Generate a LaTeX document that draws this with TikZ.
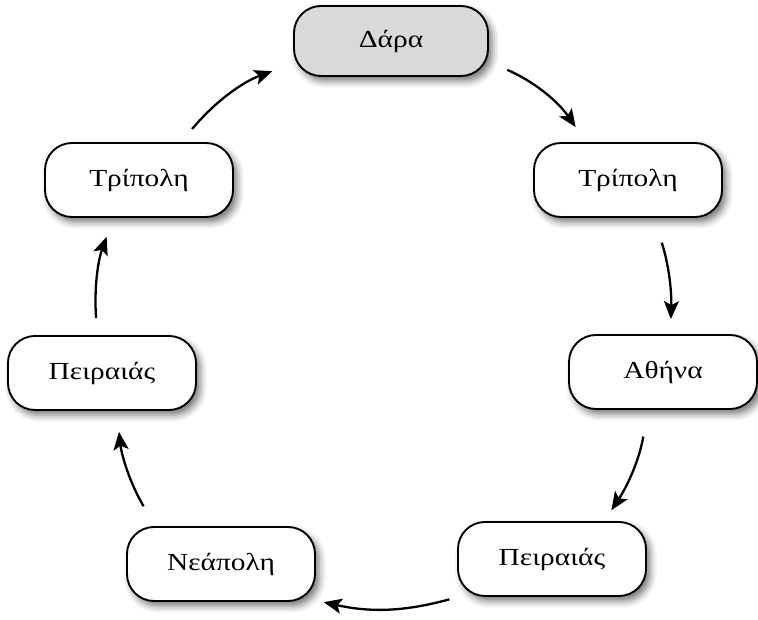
\documentclass[tikz,border=0pt]{standalone}
\usepackage{fontspec}
\setmainfont[FakeStretch=1.2]{Liberation Serif}
\usetikzlibrary{arrows.meta,shadows.blur}
\tikzset{
  city/.style={draw=black, line width=1.9pt, fill=white, rounded corners=27pt,
    minimum width=188pt, minimum height=74pt, inner sep=0pt,
    font=\fontsize{24.5}{29}\selectfont,
    blur shadow={shadow xshift=4pt, shadow yshift=-5pt, shadow blur radius=7pt, shadow opacity=55}},
  start/.style={fill=black!15},
  arr/.style={line width=2.3pt, -{Stealth[length=18pt,width=15pt,inset=4pt]}},
}
\begin{document}
\begin{tikzpicture}[x=1pt,y=1pt]
\useasboundingbox (0,0) rectangle (758,620);
\node[city,start,minimum width=194pt,minimum height=70pt] (dara) at (391,579) {Δάρα};
\node[city] (tripR) at (628,440) {Τρίπολη};
\node[city] (athina) at (663,248) {Αθήνα};
\node[city] (peirR) at (552,61) {Πειραιάς};
\node[city] (neap) at (221,56) {Νεάπολη};
\node[city] (peirL) at (102,247) {Πειραιάς};
\node[city] (tripL) at (139,440) {Τρίπολη};

\draw[arr, shorten <=20pt, shorten >=18pt] (dara.-12) to[bend left=16] (tripR.138);
\draw[arr, shorten <=26pt, shorten >=15pt] (tripR.-56) to[bend left=10] (athina.79);
\draw[arr, shorten <=27pt, shorten >=13pt] (athina.248) to[bend left=12] (peirR.36);
\draw[arr, shorten <=9pt, shorten >=8pt] (peirR.202) to[bend left=14] (neap.-21);
\draw[arr, shorten <=23pt, shorten >=21pt] (neap.150) to[bend left=12] (peirL.-69);
\draw[arr, shorten <=17pt, shorten >=20pt] (peirL.97) to[bend left=12] (tripL.236);
\draw[arr, shorten <=17pt, shorten >=22pt] (tripL.42) to[bend left=15] (dara.193);
\end{tikzpicture}
\end{document}
